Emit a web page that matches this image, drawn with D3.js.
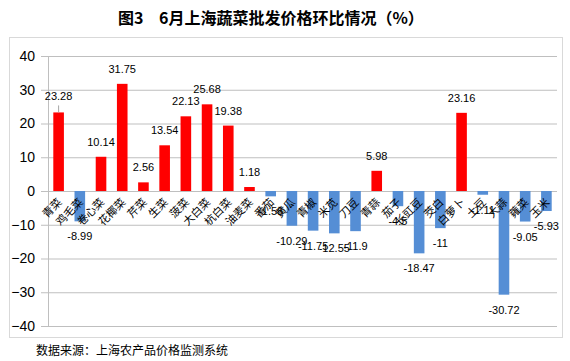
<!DOCTYPE html>
<html>
<head>
<meta charset="utf-8">
<script src="https://cdn.jsdelivr.net/npm/d3@7"></script>
<style>
  body { margin: 0; background: #fff; }
  svg { display: block; }
</style>
</head>
<body>
<svg id="chart" width="570" height="361"></svg>
<script>
// vegetables, in the order of the chart
const categories = ["青菜", "鸡毛菜", "卷心菜", "花椰菜", "芹菜", "生菜", "菠菜", "大白菜",
    "杭白菜", "油麦菜", "番茄", "黄瓜", "青椒", "米苋", "刀豆", "青蒜", "茄子", "长豇豆",
    "茭白", "白萝卜", "土豆", "大蒜", "蕹菜", "玉米"];

// month on month change, %
const changes = [23.28, -8.99, 10.14, 31.75, 2.56, 13.54, 22.13, 25.68, 19.38, 1.18,
    -1.58, -10.29, -11.75, -12.55, -11.9, 5.98, -4.5, -18.47, -11, 23.16, -1.11,
    -30.72, -9.05, -5.93];

const yTicks = [-40, -30, -20, -10, 0, 10, 20, 30, 40];

const svg = d3.select("#chart");
const latin = "'Liberation Sans', Arial, sans-serif";
const cjk = "'Noto Sans CJK SC', sans-serif";

// title
svg.append("text")
    .attr("x", 118).attr("y", 24)
    .attr("font-family", cjk).attr("font-weight", "bold").attr("font-size", 16)
    .text("图3");
svg.append("text")
    .attr("x", 159).attr("y", 24)
    .attr("font-family", cjk).attr("font-weight", "bold").attr("font-size", 16)
    .text("6月上海蔬菜批发价格环比情况（%）");

// chart frame
svg.append("rect")
    .attr("x", 9.5).attr("y", 37.5)
    .attr("width", 553).attr("height", 300)
    .attr("fill", "none").attr("stroke", "#d9d9d9");

const x = d3.scaleBand()
    .domain(categories)
    .range([48, 557])
    .paddingInner(0.5)
    .paddingOuter(0.25);

const y = d3.scaleLinear()
    .domain([-40, 40])
    .range([326, 56]);

// gridlines + y axis
const yAxis = d3.axisLeft(y)
    .tickValues(yTicks)
    .tickSize(-(557 - 48))
    .tickSizeOuter(0)
    .tickPadding(13);

const gy = svg.append("g")
    .attr("transform", "translate(48,0)")
    .call(yAxis);
gy.select(".domain").attr("stroke", "#bfbfbf");
gy.selectAll(".tick line")
    .attr("stroke", "#bfbfbf")
    .attr("x1", -7);
gy.selectAll(".tick text")
    .attr("font-family", latin)
    .attr("font-size", 14)
    .attr("fill", "#000");

// bars
svg.append("g").selectAll("rect")
    .data(changes)
    .join("rect")
    .attr("x", (d, i) => x(categories[i]))
    .attr("width", x.bandwidth())
    .attr("y", d => y(Math.max(0, d)))
    .attr("height", d => Math.abs(y(d) - y(0)))
    .attr("fill", d => d >= 0 ? "#ff0000" : "#558ed5");

// leader line of the first label
svg.append("line")
    .attr("x1", x(categories[0]) + x.bandwidth() / 2)
    .attr("x2", x(categories[0]) + x.bandwidth() / 2)
    .attr("y1", y(changes[0]) - 7)
    .attr("y2", y(changes[0]))
    .attr("stroke", "#a6a6a6");

// value labels
svg.append("g").selectAll("text")
    .data(changes)
    .join("text")
    .attr("x", (d, i) => x(categories[i]) + x.bandwidth() / 2)
    .attr("y", (d, i) => d >= 0 ? y(d) - (i === 0 ? 12 : 11) : y(d) + 19)
    .attr("text-anchor", "middle")
    .attr("font-family", latin)
    .attr("font-size", 11)
    .attr("fill", "#000")
    .text(d => d);

// category labels, rotated, hanging from the zero line
svg.append("g").selectAll("text")
    .data(categories)
    .join("text")
    .attr("transform", d => "translate(" + (x(d) + x.bandwidth() / 2 + 4) + "," + (y(0) + 12) + ") rotate(-45)")
    .attr("text-anchor", "end")
    .attr("font-family", cjk)
    .attr("font-size", 11)
    .attr("fill", "#000")
    .text(d => d);

// source note
svg.append("text")
    .attr("x", 36).attr("y", 355)
    .attr("font-family", cjk)
    .attr("font-size", 12)
    .attr("fill", "#000")
    .text("数据来源：上海农产品价格监测系统");
</script>
</body>
</html>
